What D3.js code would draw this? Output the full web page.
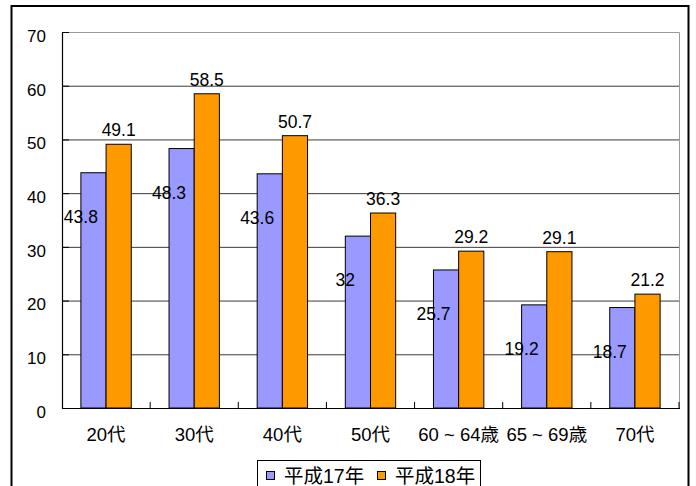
<!DOCTYPE html>
<html>
<head>
<meta charset="utf-8">
<script src="https://cdn.jsdelivr.net/npm/d3@7"></script>
<style>
  html, body { margin: 0; padding: 0; background: #fff; }
  svg text { font-family: "Liberation Sans", Arial, "Noto Sans CJK JP", sans-serif; fill: #000; }
</style>
</head>
<body>
<div id="chart"></div>
<script>
const categories = ["20代", "30代", "40代", "50代", "60 ~ 64歳", "65 ~ 69歳", "70代"];
const seriesNames = ["平成17年", "平成18年"];
const h17 = [43.8, 48.3, 43.6, 32, 25.7, 19.2, 18.7];
const h18 = [49.1, 58.5, 50.7, 36.3, 29.2, 29.1, 21.2];
const yTicks = [0, 10, 20, 30, 40, 50, 60, 70];

const colors = ["#9999ff", "#ff9900"];

const width = 696, height = 486;
// plot area
const margin = {top: 32, right: 17, bottom: 78, left: 62};

const svg = d3.select("#chart").append("svg")
    .attr("width", width)
    .attr("height", height);

// outer frame
svg.append("rect")
    .attr("x", 11.5).attr("y", 6)
    .attr("width", 677).attr("height", 500)
    .attr("fill", "none")
    .attr("stroke", "#000")
    .attr("stroke-width", 2);

const x0 = d3.scaleBand()
    .domain(categories)
    .range([margin.left, width - margin.right])
    .padding(0);

// gap width 150% like the excel chart
const x1 = d3.scaleBand()
    .domain(seriesNames)
    .range([0, x0.bandwidth()])
    .paddingInner(0)
    .paddingOuter(0.75);

const y = d3.scaleLinear()
    .domain([0, 70])
    .range([height - margin.bottom, margin.top]);

// gridlines
svg.append("g")
    .selectAll("line")
    .data(yTicks.filter(t => t > 0 && t < 70))
    .join("line")
    .attr("x1", margin.left).attr("x2", width - margin.right)
    .attr("y1", d => y(d) + 0.5).attr("y2", d => y(d) + 0.5)
    .attr("stroke", "#3a3a3a")
    .attr("stroke-width", 1);

// plot border (top + right, grey)
svg.append("path")
    .attr("d", `M${margin.left},${y(70) + 0.5}H${width - margin.right + 0.5}V${y(0)}`)
    .attr("fill", "none")
    .attr("stroke", "#9a9a9a")
    .attr("stroke-width", 1);

const data = categories.map((c, i) => ({cat: c, vals: [h17[i], h18[i]]}));

const groups = svg.append("g")
    .selectAll("g")
    .data(data)
    .join("g")
    .attr("transform", d => `translate(${x0(d.cat)},0)`);

groups.selectAll("rect")
    .data(d => d.vals.map((v, k) => ({name: seriesNames[k], v: v, k: k})))
    .join("rect")
    .attr("x", d => x1(d.name))
    .attr("y", d => y(d.v))
    .attr("width", x1.bandwidth())
    .attr("height", d => y(0) - y(d.v))
    .attr("fill", d => colors[d.k])
    .attr("stroke", "#000")
    .attr("stroke-width", 1);

// value labels: 17 sits left of the blue bar, 18 above the orange bar
groups.append("text")
    .attr("x", x1(seriesNames[0]))
    .attr("y", d => y(d.vals[0]) + 50)
    .attr("text-anchor", "middle")
    .style("font-size", "17.5px")
    .text(d => d.vals[0]);

groups.append("text")
    .attr("x", x1(seriesNames[1]) + x1.bandwidth() / 2)
    .attr("y", d => y(d.vals[1]) - 8)
    .attr("text-anchor", "middle")
    .style("font-size", "17.5px")
    .text(d => d.vals[1]);

// y axis
const yAxis = svg.append("g")
    .attr("transform", `translate(${margin.left},0)`)
    .call(d3.axisRight(y).tickValues(yTicks).tickSize(7).tickFormat(d3.format("d")));
yAxis.select(".domain").remove();
yAxis.selectAll(".tick line").attr("stroke", "#000");
yAxis.selectAll(".tick text")
    .attr("x", -16)
    .attr("dy", "0.55em")
    .attr("text-anchor", "end")
    .style("font-size", "17px");
svg.append("line")
    .attr("x1", margin.left + 0.5).attr("x2", margin.left + 0.5)
    .attr("y1", y(70)).attr("y2", y(0) + 1)
    .attr("stroke", "#000").attr("stroke-width", 1.2);

// x axis
svg.append("line")
    .attr("x1", margin.left).attr("x2", width - margin.right + 1)
    .attr("y1", y(0) + 0.5).attr("y2", y(0) + 0.5)
    .attr("stroke", "#000").attr("stroke-width", 1.2);

svg.append("g")
    .selectAll("line")
    .data(categories)
    .join("line")
    .attr("x1", d => x0(d) + x0.bandwidth())
    .attr("x2", d => x0(d) + x0.bandwidth())
    .attr("y1", y(0) - 6).attr("y2", y(0))
    .attr("stroke", "#000");

svg.append("g")
    .selectAll("text")
    .data(categories)
    .join("text")
    .attr("x", d => x0(d) + x0.bandwidth() / 2)
    .attr("y", 441)
    .attr("text-anchor", "middle")
    .style("font-size", "18.5px")
    .text(d => d);

// legend
const legend = svg.append("g");
legend.append("rect")
    .attr("x", 257.5).attr("y", 460.5)
    .attr("width", 223).attr("height", 34)
    .attr("fill", "#fff")
    .attr("stroke", "#000");

const legX = [266, 377];
seriesNames.forEach((s, k) => {
    legend.append("rect")
        .attr("x", legX[k] + 0.5).attr("y", 471.5)
        .attr("width", 8).attr("height", 8)
        .attr("fill", colors[k])
        .attr("stroke", "#000");
    legend.append("text")
        .attr("x", legX[k] + 18)
        .attr("y", 483)
        .style("font-size", "19.5px")
        .text(s);
});
</script>
</body>
</html>
